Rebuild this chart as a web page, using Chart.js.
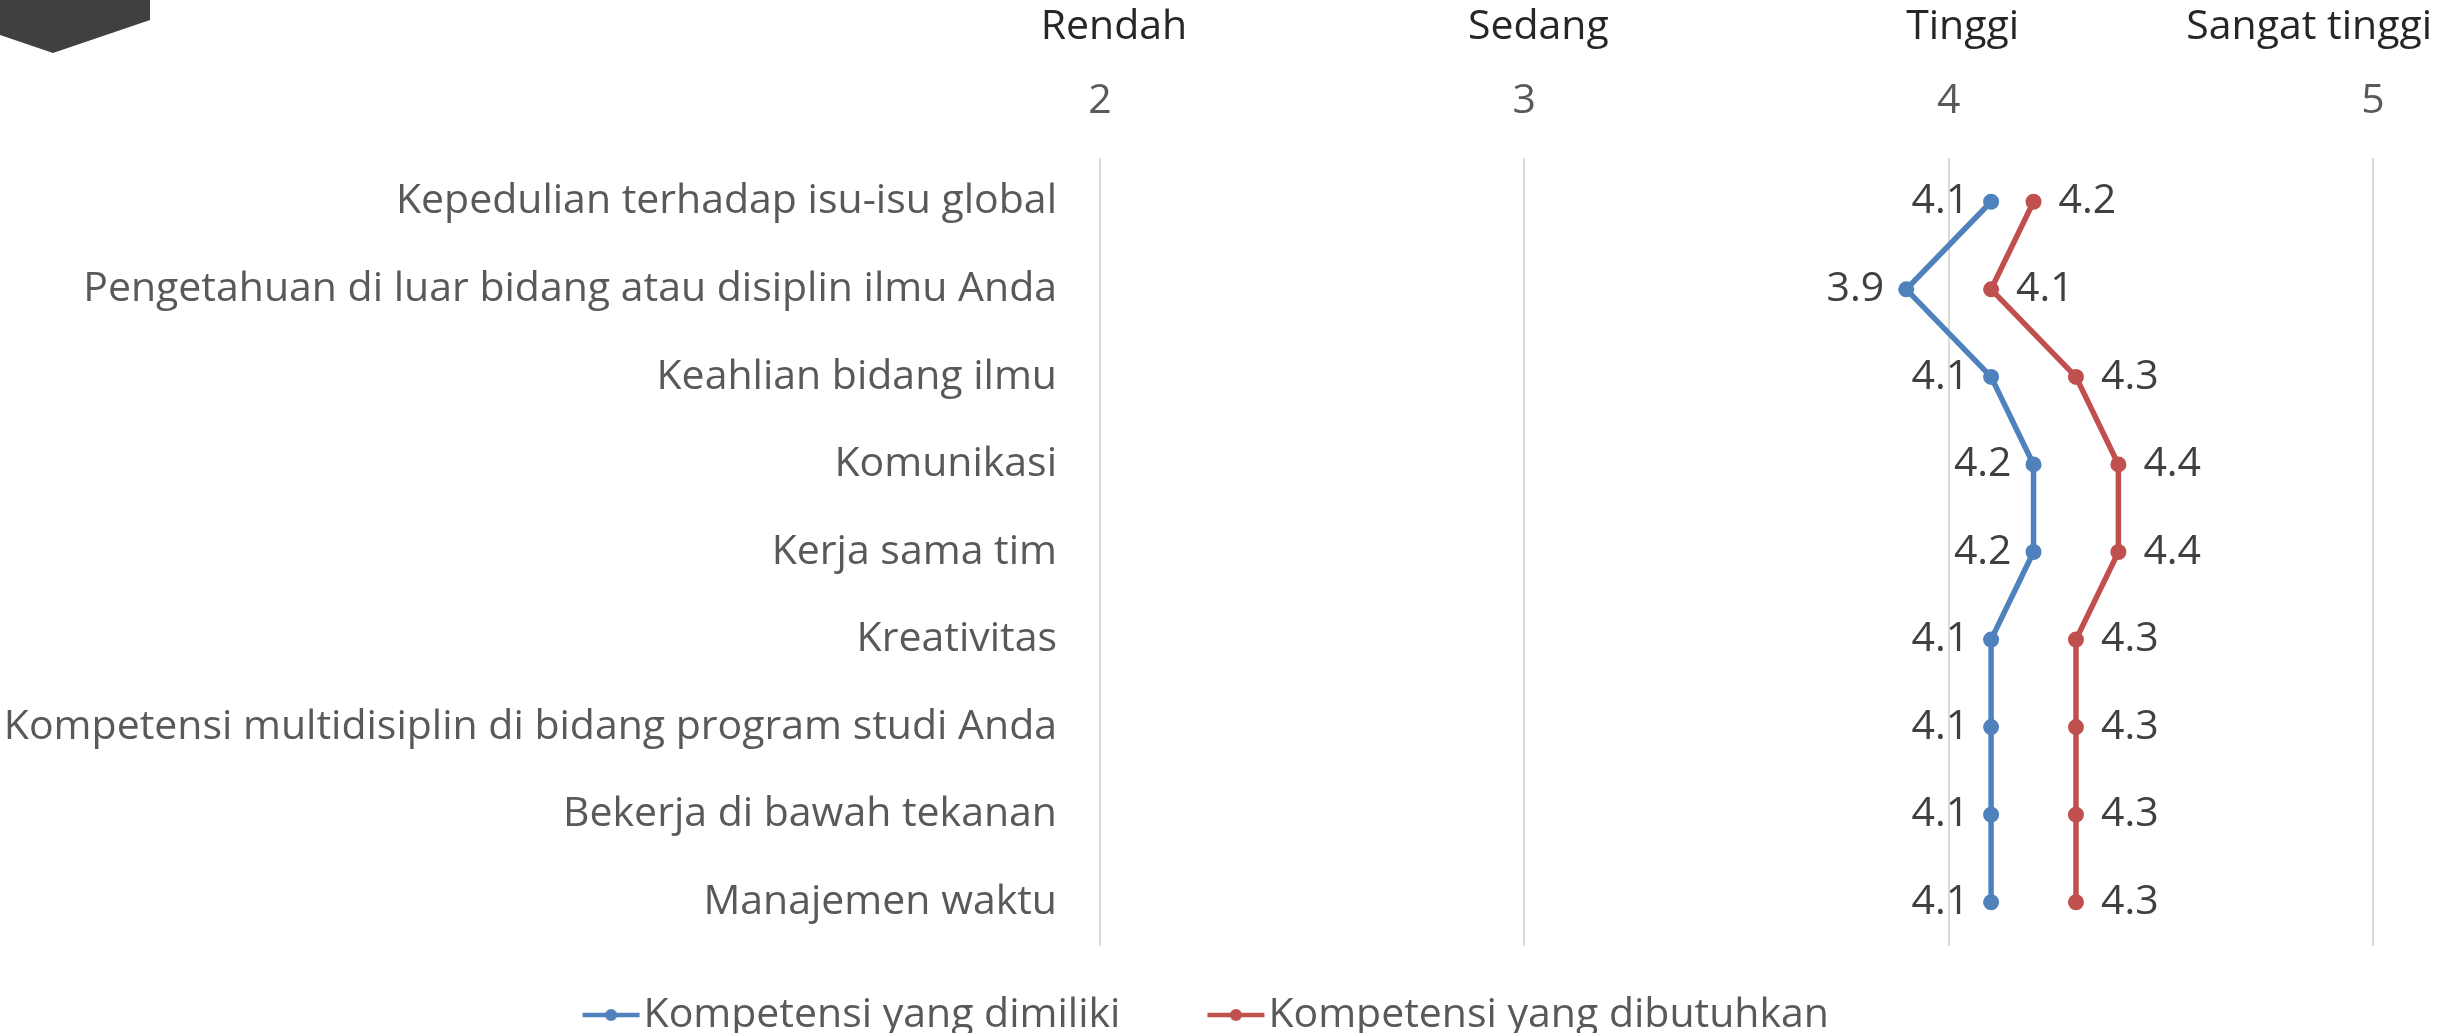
<!DOCTYPE html>
<html>
<head>
<meta charset="utf-8">
<script src="https://cdn.jsdelivr.net/npm/chart.js@4/dist/chart.umd.min.js"></script>
<style>
  body { margin: 0; background: #fff; }
  #wrap { position: relative; width: 2451px; height: 1033px; }
  /* dark tab in the top-left corner */
  #tab {
    position: absolute; left: 0; top: 0; width: 150px; height: 53px;
    background: #404040;
    clip-path: polygon(0 0, 150px 0, 150px 20px, 53px 53px, 0 35px);
  }
</style>
</head>
<body>
<div id="wrap">
  <canvas id="kompetensi-chart" width="2451" height="1033"></canvas>
  <div id="tab"></div>
</div>
<script>
var categories = [
    'Kepedulian terhadap isu-isu global',
    'Pengetahuan di luar bidang atau disiplin ilmu Anda',
    'Keahlian bidang ilmu',
    'Komunikasi',
    'Kerja sama tim',
    'Kreativitas',
    'Kompetensi multidisiplin di bidang program studi Anda',
    'Bekerja di bawah tekanan',
    'Manajemen waktu'
]
var dimiliki = [4.1, 3.9, 4.1, 4.2, 4.2, 4.1, 4.1, 4.1, 4.1]
var dibutuhkan = [4.2, 4.1, 4.3, 4.4, 4.4, 4.3, 4.3, 4.3, 4.3]

var seriesNames = ['Kompetensi yang dimiliki', 'Kompetensi yang dibutuhkan']
var seriesColors = ['#4f81bd', '#c0504d']

var scaleTicks = [2, 3, 4, 5]
var scaleNames = ['Rendah', 'Sedang', 'Tinggi', 'Sangat tinggi']

var FONT = '"Open Sans", "Noto Sans", sans-serif'
var FS = 41

//legend box is wider than the marker so the marker sits at its right end
var LEGEND_BOX = 79
var MARKER_LEN = 57

//legend marker: short line with a dot in the middle
function legendMarker(color) {
    var half = LEGEND_BOX / 2;
    var lineEnd = LEGEND_BOX - 40.5 + MARKER_LEN; // relative to box start
    var w = Math.ceil(2 * (lineEnd - half)) + 2;
    var c = document.createElement('canvas');
    c.width = w;
    c.height = 18;
    var g = c.getContext('2d');
    var x0 = w / 2 - half; // box start inside this canvas
    var a = x0 + lineEnd - MARKER_LEN;
    var b = x0 + lineEnd;
    g.strokeStyle = color;
    g.lineWidth = 4.7;
    g.beginPath();
    g.moveTo(a, 9);
    g.lineTo(b, 9);
    g.stroke();
    g.fillStyle = color;
    g.beginPath();
    g.arc((a + b) / 2, 9, 6, 0, Math.PI * 2);
    g.fill();
    return c;
}

//value next to each point, blue on the left, red on the right
var valueLabels = {
    id: 'valueLabels',
    afterDatasetsDraw(chart) {
        var ctx = chart.ctx;
        ctx.save();
        ctx.font = FS + 'px ' + FONT;
        ctx.fillStyle = '#404040';
        ctx.textBaseline = 'middle';
        chart.data.datasets.forEach((ds, i) => {
            var meta = chart.getDatasetMeta(i);
            meta.data.forEach((pt, j) => {
                var txt = ds.data[j].toFixed(1);
                if (ds.labelSide === 'left') {
                    ctx.textAlign = 'right';
                    ctx.fillText(txt, pt.x - 22, pt.y);
                } else {
                    ctx.textAlign = 'left';
                    ctx.fillText(txt, pt.x + 25, pt.y);
                }
            })
        })
        ctx.restore();
    }
}

//level names above the numeric ticks
var scaleHeader = {
    id: 'scaleHeader',
    afterDraw(chart) {
        var ctx = chart.ctx;
        var x = chart.scales.x;
        ctx.save();
        ctx.font = FS + 'px ' + FONT;
        ctx.fillStyle = '#262626';
        ctx.textBaseline = 'middle';
        ctx.textAlign = 'center';
        scaleTicks.forEach((v, i) => {
            var w = ctx.measureText(scaleNames[i]).width;
            var cx = x.getPixelForValue(v) + 14;
            cx = Math.min(cx, chart.width - 19 - w / 2);
            ctx.fillText(scaleNames[i], cx, 27);
        })
        ctx.restore();
    }
}

var ctxKompetensi = document.getElementById('kompetensi-chart').getContext('2d');

let kompetensiChart = new Chart(ctxKompetensi, {
    type: 'line',
    data: {
        labels: categories,
        datasets: [{
            label: seriesNames[0],
            data: dimiliki,
            borderColor: seriesColors[0],
            backgroundColor: seriesColors[0],
            pointBackgroundColor: seriesColors[0],
            labelSide: 'left'
        }, {
            label: seriesNames[1],
            data: dibutuhkan,
            borderColor: seriesColors[1],
            backgroundColor: seriesColors[1],
            pointBackgroundColor: seriesColors[1],
            labelSide: 'right'
        }]
    },
    options: {
        indexAxis: 'y',
        responsive: false,
        animation: false,
        layout: {
            padding: { left: 0, right: 78, top: 0, bottom: -12.5 }
        },
        elements: {
            line: { borderWidth: 5.5, tension: 0 },
            point: { radius: 8, borderWidth: 0, hoverRadius: 8 }
        },
        scales: {
            x: {
                type: 'linear',
                position: 'top',
                min: 2,
                max: 5,
                afterFit(scale) { scale.height = 158 },
                ticks: {
                    stepSize: 1,
                    padding: 32,
                    color: '#595959',
                    font: { family: FONT, size: FS }
                },
                grid: { color: '#d9d9d9', lineWidth: 2, drawTicks: false },
                border: { display: false }
            },
            y: {
                type: 'category',
                offset: true,
                afterFit(scale) { scale.width = 1100 },
                ticks: {
                    padding: 43,
                    color: '#595959',
                    font: { family: FONT, size: FS }
                },
                grid: { display: false, drawTicks: false },
                border: { display: false }
            }
        },
        plugins: {
            legend: {
                position: 'bottom',
                labels: {
                    usePointStyle: true,
                    pointStyleWidth: LEGEND_BOX,
                    padding: 48.5,
                    color: '#595959',
                    font: { family: FONT, size: FS },
                    generateLabels(chart) {
                        var items = Chart.defaults.plugins.legend.labels.generateLabels(chart);
                        items.forEach((it, i) => { it.pointStyle = legendMarker(seriesColors[i]) });
                        return items;
                    }
                }
            },
            tooltip: { enabled: false }
        }
    },
    plugins: [valueLabels, scaleHeader]
})
</script>
</body>
</html>
